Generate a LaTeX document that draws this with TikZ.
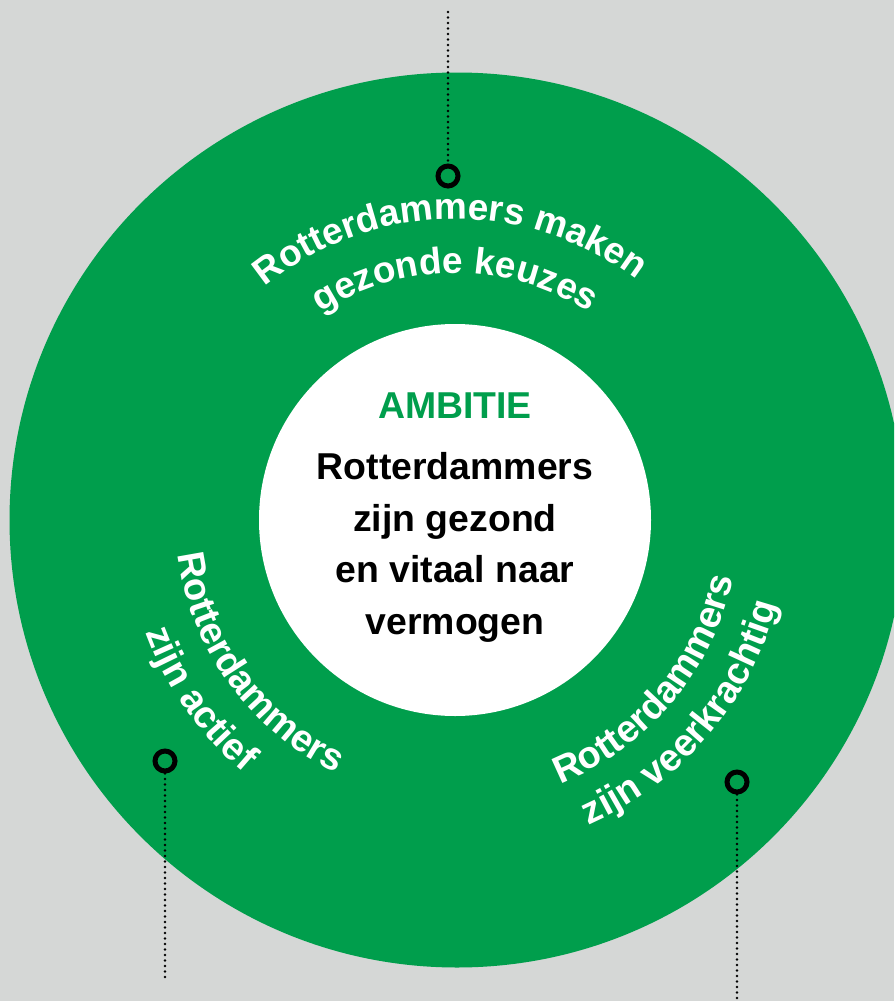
\documentclass[tikz,border=0pt]{standalone}
\usepackage{fontspec}
\setmainfont{Liberation Sans}
\usetikzlibrary{decorations.text}
\definecolor{bggray}{RGB}{213,215,214}
\definecolor{rgreen}{RGB}{0,158,76}
\newcommand{\arcfont}{\fontsize{19}{21}\selectfont\bfseries}
\newcommand{\topfont}{\fontsize{18.5}{21}\selectfont\bfseries}
\newcommand{\midfont}{\fontsize{18.7}{25.75}\selectfont\bfseries}
\begin{document}
\begin{tikzpicture}[x=0.5pt,y=0.5pt,
  ring/.style={circle,draw=black,line width=2.5pt,minimum size=10pt,inner sep=0pt},
  dotline/.style={line width=1.3pt,line cap=round,dash pattern=on 0pt off 2.75pt},
  arctext/.style={decorate,decoration={text along path,text align=center,text color=white,text={|\arcfont|#1}}},
  toptext/.style={decorate,decoration={text along path,text align=center,text color=white,text={|\topfont|#1}}}]
\useasboundingbox (0,0) rectangle (894,-1001);
\clip (0,0) rectangle (894,-1001);
\fill[bggray] (0,0) rectangle (894,-1001);
\coordinate (G) at (457,-520);
\coordinate (C) at (455,-520);
\fill[rgreen] (G) circle[radius=447.5];
\fill[white] (C) circle[radius=196];
% center text
\node[font=\midfont, text=rgreen, anchor=base, inner sep=0pt] (amb) at (455,-418) {AMBITIE};
\node[font=\midfont, align=center, anchor=north, inner sep=0pt] (body) at (455,-452) {Rotterdammers\\zijn gezond\\en vitaal naar\\vermogen};
% curved texts
\path[toptext={Rotterdammers maken}] ([shift={(151:301)}]C) arc[start angle=151,end angle=31,radius=301];
\path[toptext={gezonde keuzes}] ([shift={(150:247)}]C) arc[start angle=150,end angle=30,radius=247];
\path[arctext={Rotterdammers}] ([shift={(166:279)}]C) arc[start angle=166,end angle=266,radius=279];
\path[arctext={zijn actief}] ([shift={(165:329)}]C) arc[start angle=165,end angle=265,radius=329];
\path[arctext={Rotterdammers}] ([shift={(-90:284)}]C) arc[start angle=-90,end angle=10,radius=284];
\path[arctext={zijn veerkrachtig}] ([shift={(-90.5:333)}]C) arc[start angle=-90.5,end angle=9.5,radius=333];
% markers
\node[ring] (d1) at (448,-176) {};
\node[ring] (d2) at (165,-761) {};
\node[ring] (d3) at (737,-782) {};
\coordinate (e1) at (448,-12);
\coordinate (e2) at (165,-979);
\coordinate (e3) at (737,-999);
\draw[dotline] (e1) -- (d1);
\draw[dotline] (d2) -- (e2);
\draw[dotline] (d3) -- (e3);
\end{tikzpicture}
\end{document}
